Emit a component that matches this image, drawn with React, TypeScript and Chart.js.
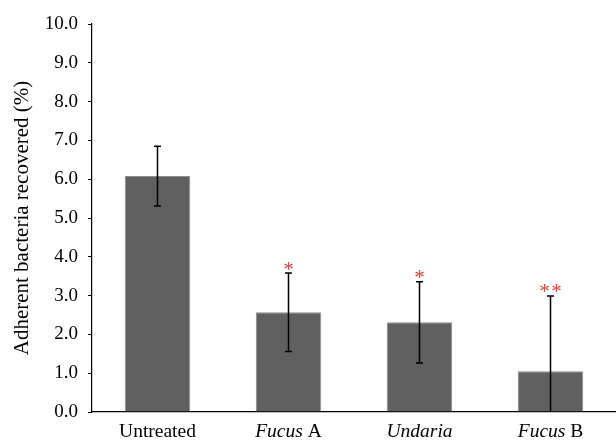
import React, { useEffect, useRef } from "react";
import { Chart, registerables } from "chart.js";

Chart.register(...registerables);

const categories = ["Untreated", "Fucus A", "Undaria", "Fucus B"];
const italicParts = ["", "Fucus", "Undaria", "Fucus"];
const romanParts = ["Untreated", "A", "", "B"];
const means = [6.08, 2.57, 2.31, 1.05];
const errors = [0.77, 1.01, 1.05, 1.94];
const significance = ["", "*", "*", "**"];
const yTicks = [0, 1, 2, 3, 4, 5, 6, 7, 8, 9, 10];
const yTitle = "Adherent bacteria recovered (%)";

const FONT = "'Liberation Serif', 'Times New Roman', serif";

const overlayPlugin = {
  id: "overlay",
  afterDatasetsDraw(chart: any) {
    const { ctx, scales, chartArea } = chart;
    const x = scales.x;
    const y = scales.y;
    ctx.save();
    // error bars
    ctx.strokeStyle = "#000";
    ctx.lineWidth = 1.5;
    means.forEach((m, i) => {
      const px = x.getPixelForValue(i);
      const lowVal = m - errors[i];
      const top = y.getPixelForValue(m + errors[i]);
      const bot = y.getPixelForValue(Math.max(0, lowVal));
      ctx.beginPath();
      ctx.moveTo(px, top);
      ctx.lineTo(px, bot);
      ctx.moveTo(px - 3.5, top);
      ctx.lineTo(px + 3.5, top);
      if (lowVal > 0) {
        ctx.moveTo(px - 3.5, bot);
        ctx.lineTo(px + 3.5, bot);
      }
      ctx.stroke();
      // significance stars
      const s = significance[i];
      if (s) {
        ctx.fillStyle = "#ee3a3a";
        ctx.font = `21px ${FONT}`;
        ctx.textAlign = "center";
        ctx.textBaseline = "alphabetic";
        const n = s.length;
        const gap = 12;
        for (let k = 0; k < n; k++) {
          const off = (k - (n - 1) / 2) * gap;
          ctx.fillText("*", px + off, top + 2.5);
        }
      }
    });
    // category labels with italic genus names
    ctx.fillStyle = "#000";
    ctx.textBaseline = "alphabetic";
    ctx.textAlign = "left";
    const size = 19.5;
    categories.forEach((_, i) => {
      const px = x.getPixelForValue(i);
      const it = italicParts[i];
      const ro = romanParts[i];
      ctx.font = `italic ${size}px ${FONT}`;
      const wi = it ? ctx.measureText(it).width : 0;
      ctx.font = `${size}px ${FONT}`;
      const sep = it && ro ? " " : "";
      const wr = ctx.measureText(sep + ro).width;
      let sx = px - (wi + wr) / 2;
      const by = chartArea.bottom + 25;
      if (it) {
        ctx.font = `italic ${size}px ${FONT}`;
        ctx.fillText(it, sx, by);
        sx += wi;
      }
      ctx.font = `${size}px ${FONT}`;
      ctx.fillText(sep + ro, sx, by);
    });
    ctx.restore();
  },
};

export default function App() {
  const ref = useRef<HTMLCanvasElement | null>(null);
  useEffect(() => {
    document.body.style.margin = "0";
    const chart = new Chart(ref.current as HTMLCanvasElement, {
      type: "bar",
      data: {
        labels: categories,
        datasets: [
          {
            data: means,
            backgroundColor: "#606060",
            borderColor: "#8c8c8c",
            borderWidth: 1,
            barPercentage: 0.5,
            categoryPercentage: 1,
          },
        ],
      },
      options: {
        responsive: false,
        animation: false,
        layout: { padding: { top: 24, right: 0, left: 0, bottom: 0 } },
        plugins: { legend: { display: false }, tooltip: { enabled: false } },
        scales: {
          x: {
            grid: { display: false },
            border: { display: true, color: "#000", width: 1.2 },
            ticks: { display: false },
            afterFit: (s: any) => {
              s.height = 29;
            },
          },
          y: {
            min: 0,
            max: 10,
            afterBuildTicks: (s: any) => {
              s.ticks = yTicks.map((v) => ({ value: v }));
            },
            ticks: {
              color: "#000",
              padding: 10,
              font: { family: FONT, size: 19 },
              callback: (v: any) => Number(v).toFixed(1),
            },
            grid: {
              drawOnChartArea: false,
              drawTicks: true,
              tickLength: 4,
              color: "#000",
            },
            border: { display: true, color: "#000", width: 1.2 },
            title: {
              display: true,
              text: yTitle,
              color: "#000",
              font: { family: FONT, size: 21 },
              padding: { top: 10, bottom: 0 },
            },
            afterFit: (s: any) => {
              s.width = 92;
            },
          },
        },
      },
      plugins: [overlayPlugin],
    });
    return () => chart.destroy();
  }, []);
  return (
    <div style={{ position: "absolute", left: 0, top: 0, width: 616, height: 441 }}>
      <canvas ref={ref} width={616} height={441} />
    </div>
  );
}
